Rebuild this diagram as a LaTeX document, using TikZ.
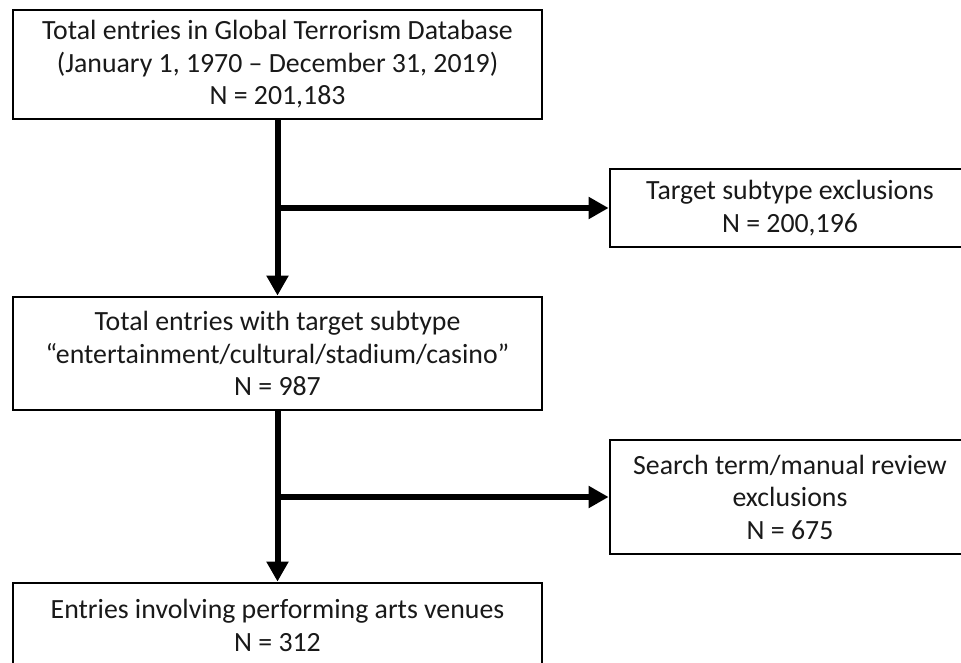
\documentclass[tikz,border=0pt]{standalone}
\usepackage{fontspec}
\setmainfont{Carlito}
\usetikzlibrary{arrows.meta}
\begin{document}
\begin{tikzpicture}[x=1pt,y=-1pt,
  box/.style={draw=black,line width=2.8pt,fill=white,inner sep=0pt,align=center,
    font=\fontsize{27.8}{32.5}\selectfont,text=black!90},
  mainbox/.style={box,minimum width=529pt},
  sidebox/.style={box,minimum width=360pt},
  flow/.style={line width=6pt,-{Triangle[length=20pt,width=21pt]}}]
\useasboundingbox (0,0) rectangle (961,663);
\clip (0,0) rectangle (961,663);
\fill[white] (0,0) rectangle (961,663);
\node[mainbox,minimum height=109pt] (b1) at (277.5,64.5)
  {Total entries in Global Terrorism Database\\(January 1, 1970 – December 31, 2019)\\N = 201,183};
\node[sidebox,minimum height=78pt] (b2) at (790,208)
  {Target subtype exclusions\\N = 200,196};
\node[mainbox,minimum height=113pt] (b3) at (277.5,353.5)
  {Total entries with target subtype\\“entertainment/cultural/stadium/casino”\\N = 987};
\node[sidebox,minimum height=114pt] (b4) at (790,497)
  {Search term/manual review\\exclusions\\N = 675};
\node[mainbox,minimum height=85pt] (b5) at (277.5,625.5)
  {Entries involving performing arts venues\\N = 312};
\coordinate (j1) at (277.5,208);
\coordinate (j2) at (277.5,497);
\draw[flow] (b1.south) -- (b3.north);
\draw[flow] (j1) -- (b2.west);
\draw[flow] (b3.south) -- (b5.north);
\draw[flow] (j2) -- (b4.west);
\end{tikzpicture}
\end{document}
